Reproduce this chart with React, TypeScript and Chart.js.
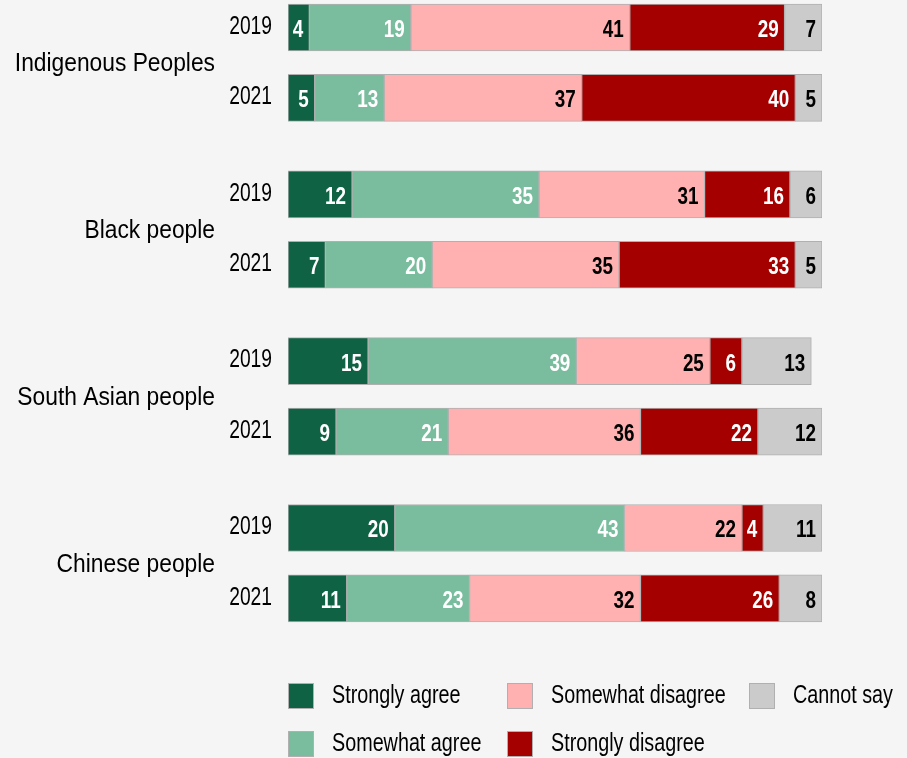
import React, { useEffect, useRef } from "react";
import { Chart, registerables } from "chart.js";

Chart.register(...registerables);

const groups = ["Indigenous Peoples", "Black people", "South Asian people", "Chinese people"];
const years = ["2019", "2021"];

const seriesNames = ["Strongly agree", "Somewhat agree", "Somewhat disagree", "Strongly disagree", "Cannot say"];
const stronglyAgree = [4, 5, 12, 7, 15, 9, 20, 11];
const somewhatAgree = [19, 13, 35, 20, 39, 21, 43, 23];
const somewhatDisagree = [41, 37, 31, 35, 25, 36, 22, 32];
const stronglyDisagree = [29, 40, 16, 33, 6, 22, 4, 26];
const cannotSay = [7, 5, 6, 5, 13, 12, 11, 8];

const seriesValues = [stronglyAgree, somewhatAgree, somewhatDisagree, stronglyDisagree, cannotSay];
const seriesColors = ["#0f6244", "#7abd9e", "#ffb1b1", "#a50000", "#cbcbcb"];
const labelColors = ["#ffffff", "#ffffff", "#000000", "#ffffff", "#000000"];

const GROUP_STEP = 2.37;
const positions: number[] = [];
groups.forEach((_, g) => years.forEach((_, y) => positions.push(g * GROUP_STEP + y)));
const rowYears: string[] = [];
groups.forEach(() => years.forEach((y) => rowYears.push(y)));

const FONT = "'Liberation Sans', Arial, sans-serif";
const BG = "#f5f5f5";

function narrowText(
  ctx: CanvasRenderingContext2D,
  text: string,
  x: number,
  y: number,
  font: string,
  sx: number,
  align: CanvasTextAlign,
  color: string
) {
  ctx.save();
  ctx.translate(x, y);
  ctx.scale(sx, 1);
  ctx.font = font;
  ctx.fillStyle = color;
  ctx.textAlign = align;
  ctx.textBaseline = "middle";
  ctx.fillText(text, 0, 0);
  ctx.restore();
}

const bgPlugin = {
  id: "bg",
  beforeDraw(chart: any) {
    const { ctx, width, height } = chart;
    ctx.save();
    ctx.fillStyle = BG;
    ctx.fillRect(0, 0, width, height);
    ctx.restore();
  },
};

const valueLabelPlugin = {
  id: "valueLabels",
  afterDatasetsDraw(chart: any) {
    const { ctx } = chart;
    chart.data.datasets.forEach((ds: any, i: number) => {
      const meta = chart.getDatasetMeta(i);
      meta.data.forEach((el: any, j: number) => {
        const v = seriesValues[i][j];
        narrowText(ctx, String(v), el.x - 6, el.y + 3, `bold 23px ${FONT}`, 0.82, "right", labelColors[i]);
      });
    });
  },
};

const axisLabelPlugin = {
  id: "axisLabels",
  afterDraw(chart: any) {
    const { ctx } = chart;
    const ys = chart.scales.y;
    positions.forEach((p, i) => {
      narrowText(ctx, rowYears[i], 272, ys.getPixelForValue(p) - 1, `26px ${FONT}`, 0.74, "right", "#000");
    });
    groups.forEach((name, g) => {
      const a = ys.getPixelForValue(positions[g * 2]);
      const b = ys.getPixelForValue(positions[g * 2 + 1]);
      narrowText(ctx, name, 215, (a + b) / 2 + 1, `26.5px ${FONT}`, 0.86, "right", "#000");
    });
  },
};

const legendPlugin = {
  id: "customLegend",
  afterDraw(chart: any) {
    const { ctx } = chart;
    const colX = [288, 507, 749];
    const rowY = [696, 744];
    // column-major order: [series, column, row]
    const order = [
      [0, 0, 0],
      [1, 0, 1],
      [2, 1, 0],
      [3, 1, 1],
      [4, 2, 0],
    ];
    order.forEach(([s, c, r]) => {
      const x = colX[c];
      const y = rowY[r];
      ctx.save();
      ctx.fillStyle = seriesColors[s];
      ctx.fillRect(x, y - 13, 26, 26);
      ctx.strokeStyle = "#b0b0b0";
      ctx.lineWidth = 1;
      ctx.strokeRect(x + 0.5, y - 12.5, 25, 25);
      ctx.restore();
      narrowText(ctx, seriesNames[s], x + 44, y, `26px ${FONT}`, 0.76, "left", "#000");
    });
  },
};

export default function App() {
  const ref = useRef<HTMLCanvasElement | null>(null);

  useEffect(() => {
    document.body.style.margin = "0";
    document.body.style.background = BG;
    const canvas = ref.current!;
    const PX_PER_UNIT = 70.4;
    const yMin = positions[0] - 27.5 / PX_PER_UNIT;
    const yMax = yMin + 640 / PX_PER_UNIT;

    const chart = new Chart(canvas, {
      type: "bar",
      data: {
        datasets: seriesNames.map((name, i) => ({
          label: name,
          data: seriesValues[i].map((v, j) => ({ x: v, y: positions[j] })),
          backgroundColor: seriesColors[i],
          borderColor: "#b0b0b0",
          borderWidth: 1,
          borderSkipped: false,
          barThickness: 47,
        })),
      },
      plugins: [bgPlugin, valueLabelPlugin, axisLabelPlugin, legendPlugin],
      options: {
        indexAxis: "y",
        animation: false,
        responsive: false,
        maintainAspectRatio: false,
        layout: { padding: { left: 0, right: 85, top: 0, bottom: 118 } },
        plugins: {
          legend: { display: false },
          tooltip: { enabled: false },
        },
        scales: {
          x: {
            type: "linear",
            stacked: true,
            min: 0,
            max: 100,
            display: false,
          },
          y: {
            type: "linear",
            stacked: true,
            reverse: true,
            offset: false,
            min: yMin,
            max: yMax,
            grid: { display: false, drawTicks: false },
            border: { display: false },
            afterBuildTicks: (scale: any) => {
              scale.ticks = positions.map((p) => ({ value: p }));
            },
            afterFit: (scale: any) => {
              scale.width = 288;
            },
            ticks: {
              display: false,
              callback: (value: any, index: number) => rowYears[index],
            },
          },
        },
      } as any,
    });
    return () => chart.destroy();
  }, []);

  return (
    <div style={{ width: 907, height: 758, background: BG }}>
      <canvas ref={ref} width={907} height={758} style={{ display: "block" }} />
    </div>
  );
}
